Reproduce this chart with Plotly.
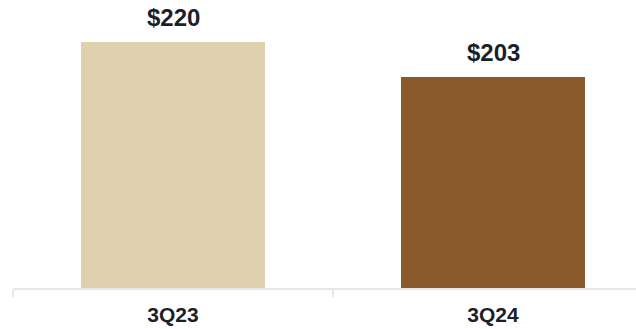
import plotly.graph_objects as go

categories = ["3Q23", "3Q24"]
values = [220, 203]
labels = ["$220", "$203"]
colors = ["#DFD1AE", "#8B5A2B"]

FONT = "Liberation Sans, Arial, sans-serif"
TEXT_COLOR = "#1B1F2A"

fig = go.Figure()
fig.add_trace(go.Bar(
    x=categories, y=values, marker=dict(color=colors, line=dict(width=0)),
    width=0.572, hoverinfo="skip",
))

for c, v, t in zip(categories, values, labels):
    fig.add_annotation(x=c, y=v, xref="x", yref="y", text=f"<b>{t}</b>",
                       showarrow=False, yanchor="bottom", yshift=9,
                       font=dict(family=FONT, size=24, color=TEXT_COLOR))

fig.update_layout(
    width=636, height=329,
    margin=dict(l=13, r=0, t=0, b=41),
    paper_bgcolor="white", plot_bgcolor="white",
    showlegend=False,
    bargap=0,
    xaxis=dict(
        type="category", range=[-0.5, -0.5 + 623 / 320],
        tickson="boundaries", ticks="outside", ticklen=7, tickwidth=2,
        tickcolor="#E6E6E6", showline=True, linecolor="#E6E6E6", linewidth=2,
        showgrid=False, zeroline=False,
        ticklabelstandoff=7,
        tickfont=dict(family=FONT, size=21, color=TEXT_COLOR),
        tickprefix="<b>", ticksuffix="</b>",
    ),
    yaxis=dict(range=[100, 100 + 288 / 2.05], visible=False, fixedrange=True),
)

fig.write_html("out.html", config={"displayModeBar": False},
               post_script="document.body.style.margin='0';")
